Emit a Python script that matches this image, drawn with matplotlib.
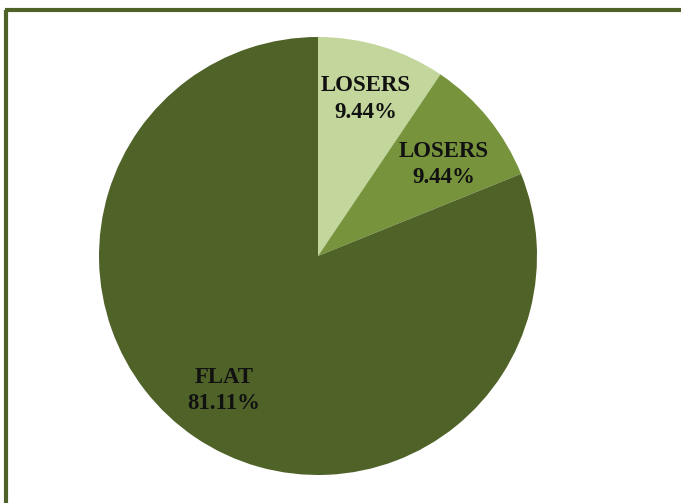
import matplotlib
matplotlib.use("Agg")
import matplotlib.pyplot as plt
from matplotlib.lines import Line2D
import numpy as np

categories = ["LOSERS", "LOSERS", "FLAT"]
values = [9.44, 9.44, 81.11]
colors = ["#C3D69B", "#77933C", "#4F6228"]

W, H = 681, 503
fig = plt.figure(figsize=(W / 100, H / 100), dpi=100)
fig.patch.set_facecolor("white")

cx, cy, r = 318, 256, 219
ax = fig.add_axes([(cx - r) / W, (H - cy - r) / H, 2 * r / W, 2 * r / H])
wedges, _ = ax.pie(values, colors=colors, startangle=90, counterclock=False,
                   radius=1.0, wedgeprops=dict(linewidth=0))
ax.set_xlim(-1, 1)
ax.set_ylim(-1, 1)
ax.set_aspect("equal")
ax.axis("off")

dists = [0.75, 0.71, 0.75]
ang_off = [0.0, -3.0, -1.0]
for w, cat, v, d, o in zip(wedges, categories, values, dists, ang_off):
    ang = np.deg2rad((w.theta1 + w.theta2) / 2 + o)
    ax.text(d * np.cos(ang), d * np.sin(ang), f"{cat}\n{v:.2f}%",
            ha="center", va="center", fontsize=16.5, fontweight="bold",
            family=["Liberation Serif", "DejaVu Serif"], color="#111111",
            linespacing=1.35)

# Frame (open on right/bottom as in the reference)
xl = 6.0 / W
yt = 1 - 9.5 / H
fig.add_artist(Line2D([xl, xl], [0, yt], transform=fig.transFigure,
                      color="#4F6228", linewidth=3.0, solid_capstyle="butt"))
fig.add_artist(Line2D([xl - 1.5 / W, 1], [yt, yt], transform=fig.transFigure,
                      color="#4F6228", linewidth=3.0, solid_capstyle="butt"))

fig.savefig("out.png", dpi=100, facecolor="white")
